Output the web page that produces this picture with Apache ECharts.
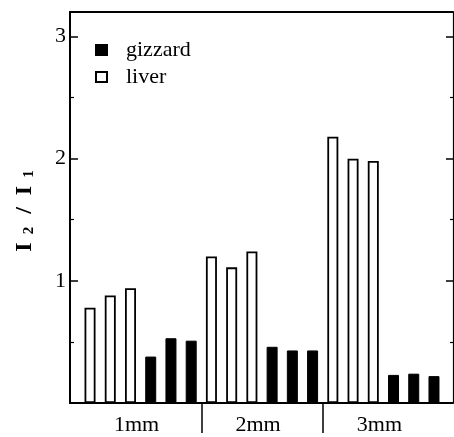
<!DOCTYPE html>
<html>
<head>
<meta charset="utf-8">
<script src="https://cdn.jsdelivr.net/npm/echarts@6/dist/echarts.min.js"></script>
<style>
  html, body { margin: 0; padding: 0; background: #fff; }
  #chart { width: 454px; height: 437px; }
</style>
</head>
<body>
<div id="chart"></div>
<script>
// Electrode gap groups
const groups = ['1mm', '2mm', '3mm'];
// I2/I1 ratio, three measurements per tissue in each group
const liver1mm = [0.78, 0.88, 0.94];
const liver2mm = [1.20, 1.11, 1.24];
const liver3mm = [2.18, 2.00, 1.98];
const gizzard1mm = [0.38, 0.53, 0.51];
const gizzard2mm = [0.46, 0.43, 0.43];
const gizzard3mm = [0.23, 0.24, 0.22];
// y axis ticks
const yMajorTicks = [1, 2, 3];
const yMinorTicks = [0.5, 1.5, 2.5];

const liverByGroup = [liver1mm, liver2mm, liver3mm];
const gizzardByGroup = [gizzard1mm, gizzard2mm, gizzard3mm];

// Each group occupies six slots: three liver bars followed by three gizzard bars
const slotsPerGroup = 6;
const liverData = [];
const gizzardData = [];
groups.forEach((g, gi) => {
  liverByGroup[gi].forEach((v, i) => liverData.push([gi * slotsPerGroup + i, v]));
  gizzardByGroup[gi].forEach((v, i) => gizzardData.push([gi * slotsPerGroup + 3 + i, v]));
});
const groupCenters = groups.map((g, gi) => gi * slotsPerGroup + 2.5);
const groupDividers = groups.slice(1).map((g, gi) => gi * slotsPerGroup + 5.5);

const serif = 'Liberation Serif';
const xMin = -0.99, xMax = 17.94;
const yMin = 0, yMax = 3.2;

const chart = echarts.init(document.getElementById('chart'), null, { renderer: 'canvas' });
chart.setOption({
  animation: false,
  backgroundColor: '#fff',
  grid: { left: 70, right: 1, top: 12, bottom: 34, containLabel: false, outerBoundsMode: 'none' },
  legend: {
    data: ['gizzard', 'liver'],
    orient: 'vertical',
    left: 90,
    top: 34,
    icon: 'rect',
    itemWidth: 11,
    itemHeight: 10,
    itemGap: 5,
    textStyle: { fontSize: 22, fontFamily: serif, color: '#000', padding: [0, 0, 0, 14] }
  },
  xAxis: [
    {
      type: 'value', position: 'bottom', min: xMin, max: xMax,
      axisLine: { show: true, onZero: false, lineStyle: { color: '#000', width: 2 } },
      splitLine: { show: false },
      axisTick: { show: true, inside: false, length: 30, customValues: groupDividers,
                  lineStyle: { color: '#000', width: 1.5 } },
      axisLabel: {
        show: true, customValues: groupCenters, margin: 11,
        formatter: v => groups[Math.round((v - 2.5) / slotsPerGroup)],
        fontSize: 22, fontFamily: serif, color: '#000', padding: [0, 8, 0, 0]
      }
    },
    {
      type: 'value', position: 'top', min: xMin, max: xMax,
      axisLine: { show: true, onZero: false, lineStyle: { color: '#000', width: 2 } },
      splitLine: { show: false }, axisTick: { show: false }, axisLabel: { show: false }
    }
  ],
  yAxis: [
    {
      type: 'value', position: 'left', min: yMin, max: yMax,
      name: '{b|I}{s|2}{b|/}{b|I}{e|1}',
      nameLocation: 'middle', nameRotate: 90, nameGap: 33,
      nameTextStyle: {
        rich: {
          b: { fontSize: 24, fontWeight: 'bold', fontFamily: serif, color: '#000', padding: [0, 4, 0, 8] },
          s: { fontSize: 15, fontWeight: 'bold', fontFamily: serif, color: '#000', verticalAlign: 'bottom', padding: [0, 5, 0, 4] },
          e: { fontSize: 15, fontWeight: 'bold', fontFamily: serif, color: '#000', verticalAlign: 'bottom', padding: [0, 15, 0, 4] }
        }
      },
      axisLine: { show: true, onZero: false, lineStyle: { color: '#000', width: 2 } },
      splitLine: { show: false },
      axisTick: { show: true, inside: true, length: 8, customValues: yMajorTicks,
                  lineStyle: { color: '#000', width: 1.5 } },
      axisLabel: { show: true, customValues: yMajorTicks, margin: 4,
                   fontSize: 22, fontFamily: serif, color: '#000' }
    },
    {
      type: 'value', position: 'left', min: yMin, max: yMax,
      axisLine: { show: false, onZero: false }, splitLine: { show: false }, axisLabel: { show: false },
      axisTick: { show: true, inside: true, length: 4, customValues: yMinorTicks,
                  lineStyle: { color: '#000', width: 1.2 } }
    },
    {
      type: 'value', position: 'right', min: yMin, max: yMax,
      axisLine: { show: true, onZero: false, lineStyle: { color: '#000', width: 1.2 } },
      splitLine: { show: false }, axisLabel: { show: false },
      axisTick: { show: true, inside: true, length: 7, customValues: yMajorTicks,
                  lineStyle: { color: '#000', width: 1.5 } }
    },
    {
      type: 'value', position: 'right', min: yMin, max: yMax,
      axisLine: { show: false, onZero: false }, splitLine: { show: false }, axisLabel: { show: false },
      axisTick: { show: true, inside: true, length: 3, customValues: yMinorTicks,
                  lineStyle: { color: '#000', width: 1.2 } }
    }
  ],
  series: [
    {
      name: 'gizzard', type: 'bar', xAxisIndex: 0, yAxisIndex: 0,
      barWidth: 11, barGap: '-100%', data: gizzardData,
      itemStyle: { color: '#000', borderColor: '#000', borderWidth: 1 }
    },
    {
      name: 'liver', type: 'bar', xAxisIndex: 0, yAxisIndex: 0,
      barWidth: 11, barGap: '-100%', data: liverData,
      itemStyle: { color: '#fff', borderColor: '#000', borderWidth: 1.8 }
    }
  ]
});
</script>
</body>
</html>
